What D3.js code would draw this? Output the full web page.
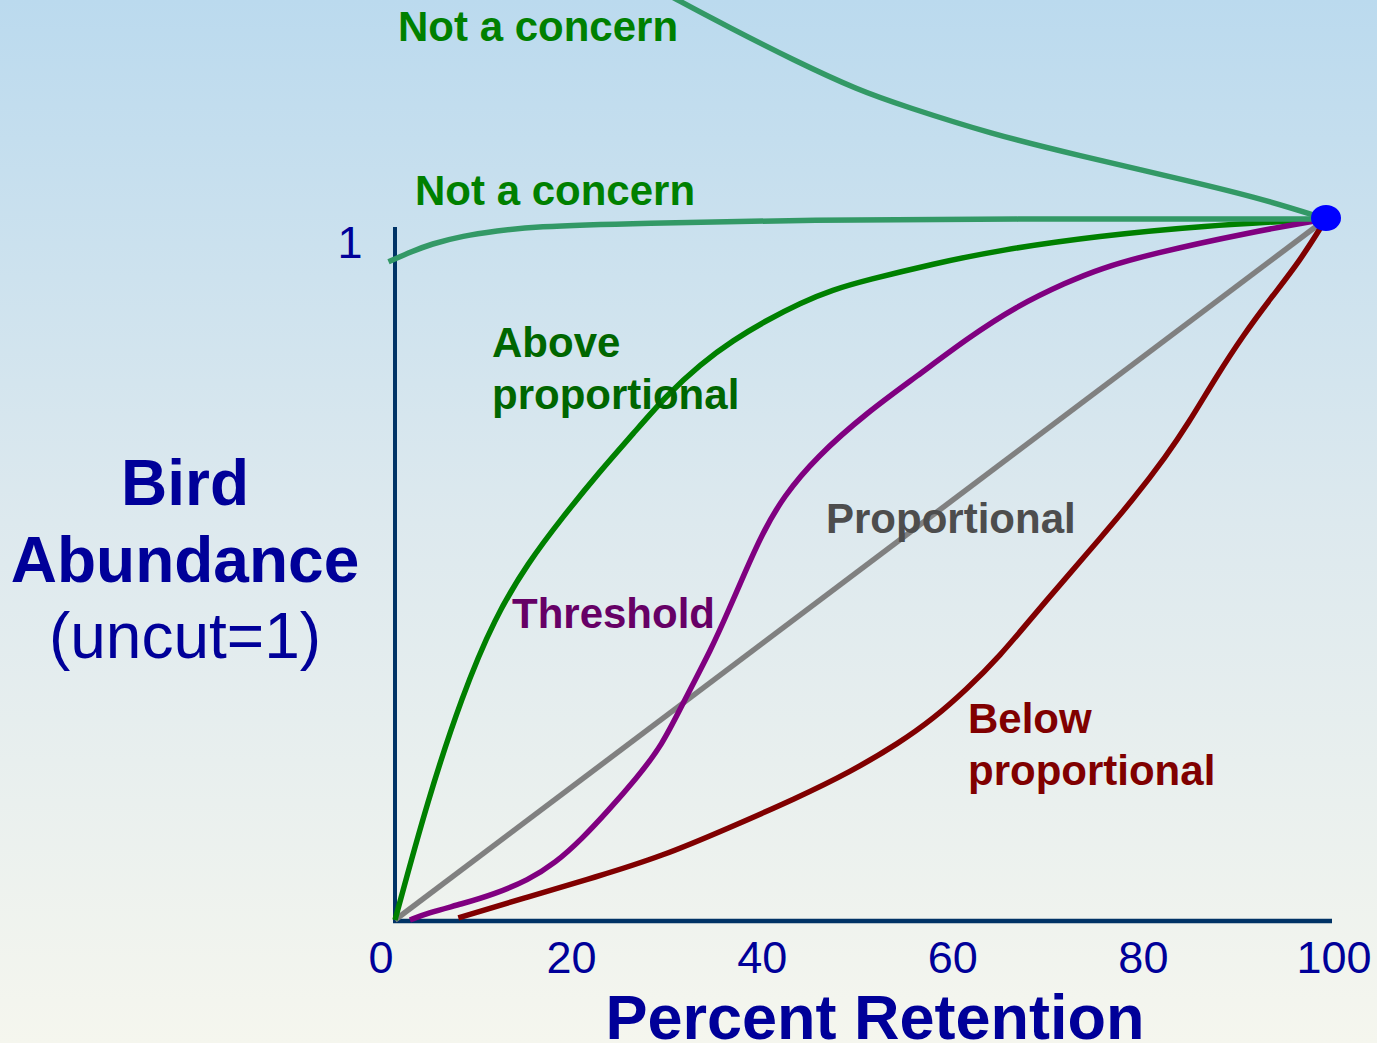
<!DOCTYPE html>
<html>
<head>
<meta charset="utf-8">
<script src="https://cdn.jsdelivr.net/npm/d3@7"></script>
<style>
  body { margin: 0; overflow: hidden; }
  text { font-family: "Liberation Sans", Arial, sans-serif; }
</style>
</head>
<body>
<div id="chart"></div>
<script>
// percent retention (x) vs bird abundance relative to uncut (y)
const aboveX = [0, 3.5, 7.2, 10.7, 14.3, 17.9, 22, 25.6, 29.2, 32.8, 36.3, 40, 43.5, 47, 50.7, 57.8, 65, 75.7, 86.5, 100];
const aboveY = [0, 0.171, 0.32, 0.431, 0.51, 0.573, 0.64, 0.694, 0.749, 0.793, 0.827, 0.856, 0.88, 0.899, 0.913, 0.936, 0.956, 0.976, 0.99, 1];

const threshX = [1.6, 3.5, 7.2, 10.7, 14.3, 17.2, 20.1, 22.9, 25.8, 28.7, 31.1, 34, 35.8, 37.6, 39.4, 41.7, 45.3, 50.7, 56.1, 61.4, 66.8, 72.2, 75.7, 81.1, 91.8, 100];
const threshY = [0, 0.01, 0.023, 0.037, 0.057, 0.081, 0.116, 0.156, 0.2, 0.249, 0.314, 0.387, 0.441, 0.496, 0.55, 0.604, 0.661, 0.724, 0.776, 0.829, 0.876, 0.91, 0.929, 0.95, 0.981, 1];

const propX = [0, 100];
const propY = [0, 1];

const belowX = [6.8, 14.3, 21.5, 28.7, 35.8, 43, 48.9, 54.2, 57.8, 61.4, 65, 68.5, 72.2, 75.7, 79.3, 82.9, 85.1, 88.3, 91.1, 94, 97.2, 100];
const belowY = [0.003, 0.033, 0.061, 0.091, 0.131, 0.173, 0.211, 0.253, 0.287, 0.329, 0.377, 0.433, 0.49, 0.544, 0.6, 0.663, 0.706, 0.777, 0.834, 0.886, 0.94, 1];

const concernHighX = [28, 30.1, 35.8, 42.9, 49.9, 54.7, 64.1, 73.6, 83.1, 92.6, 100];
const concernHighY = [1.33, 1.314, 1.274, 1.226, 1.183, 1.161, 1.121, 1.09, 1.061, 1.031, 1];

const concernFlatX = [-0.7, 1.9, 3.8, 7.3, 11, 14.5, 26.3, 45.2, 64.1, 100];
const concernFlatY = [0.939, 0.954, 0.964, 0.976, 0.983, 0.989, 0.994, 0.999, 1, 1];

const xTicks = [0, 20, 40, 60, 80, 100];
const yTicks = [1];

const W = 1377, H = 1043;

const svg = d3.select("#chart").append("svg")
  .attr("width", W)
  .attr("height", H);

// background gradient
const grad = svg.append("defs").append("linearGradient")
  .attr("id", "bg")
  .attr("x1", 0).attr("y1", 0).attr("x2", 0).attr("y2", 1);
grad.append("stop").attr("offset", "0%").attr("stop-color", "#bbdaee");
grad.append("stop").attr("offset", "50%").attr("stop-color", "#dde9ee");
grad.append("stop").attr("offset", "100%").attr("stop-color", "#f5f6ee");

svg.append("rect")
  .attr("width", W)
  .attr("height", H)
  .attr("fill", "url(#bg)");

const x = d3.scaleLinear().domain([0, 100]).range([395, 1326]);
const y = d3.scaleLinear().domain([0, 1]).range([920, 219]);
// tick labels sit on a slightly wider spacing than the axis itself
const xLab = d3.scaleLinear().domain([0, 100]).range([381, 1334]);

const line = d3.line()
  .x(d => x(d[0]))
  .y(d => y(d[1]))
  .curve(d3.curveBasis);

const series = [
  { xs: concernHighX, ys: concernHighY, color: "#339966" },
  { xs: propX, ys: propY, color: "#808080" },
  { xs: belowX, ys: belowY, color: "#800000" },
  { xs: aboveX, ys: aboveY, color: "#008000" },
  { xs: threshX, ys: threshY, color: "#800080" },
  { xs: concernFlatX, ys: concernFlatY, color: "#339966" }
];

// axes
svg.append("line")
  .attr("x1", x(0)).attr("x2", x(0))
  .attr("y1", y(0) + 2).attr("y2", y(1) + 8)
  .attr("stroke", "#003366").attr("stroke-width", 4);

svg.append("line")
  .attr("x1", x(0) - 2).attr("x2", x(100) + 6)
  .attr("y1", y(0) + 1).attr("y2", y(0) + 1)
  .attr("stroke", "#003366").attr("stroke-width", 4.5);

svg.selectAll("path.curve")
  .data(series)
  .enter()
  .append("path")
  .attr("class", "curve")
  .attr("d", s => line(s.xs.map((v, i) => [v, s.ys[i]])))
  .attr("fill", "none")
  .attr("stroke", s => s.color)
  .attr("stroke-width", 5.5)
  .attr("stroke-linecap", "butt");

// end point
svg.append("ellipse")
  .attr("cx", x(100))
  .attr("cy", y(1) - 1)
  .attr("rx", 15)
  .attr("ry", 13)
  .attr("fill", "#0000ff");

// tick labels
svg.selectAll("text.xtick")
  .data(xTicks)
  .enter()
  .append("text")
  .attr("class", "xtick")
  .attr("x", d => xLab(d))
  .attr("y", 973)
  .attr("text-anchor", "middle")
  .attr("font-size", 45)
  .attr("fill", "#000099")
  .text(d => d);

svg.selectAll("text.ytick")
  .data(yTicks)
  .enter()
  .append("text")
  .attr("class", "ytick")
  .attr("x", 350)
  .attr("y", d => y(d) + 39)
  .attr("text-anchor", "middle")
  .attr("font-size", 45)
  .attr("fill", "#000099")
  .text(d => d);

// axis titles
svg.append("text")
  .attr("x", 875)
  .attr("y", 1039)
  .attr("text-anchor", "middle")
  .attr("font-size", 63)
  .attr("font-weight", "bold")
  .attr("fill", "#000099")
  .text("Percent Retention");

const ytitle = svg.append("text")
  .attr("text-anchor", "middle")
  .attr("fill", "#000099")
  .attr("font-size", 64);
ytitle.append("tspan").attr("x", 185).attr("y", 505).attr("font-weight", "bold").text("Bird");
ytitle.append("tspan").attr("x", 185).attr("y", 582).attr("font-weight", "bold").text("Abundance");
ytitle.append("tspan").attr("x", 185).attr("y", 658).text("(uncut=1)");

// curve labels
const notes = [
  { lines: ["Not a concern"], px: 398, py: 41, color: "#008000" },
  { lines: ["Not a concern"], px: 415, py: 205, color: "#008000" },
  { lines: ["Above", "proportional"], px: 492, py: 357, color: "#006600" },
  { lines: ["Threshold"], px: 512, py: 628, color: "#660066" },
  { lines: ["Proportional"], px: 826, py: 533, color: "#4d4d4d" },
  { lines: ["Below", "proportional"], px: 968, py: 733, color: "#800000" }
];

notes.forEach(n => {
  const t = svg.append("text")
    .attr("font-size", 42)
    .attr("font-weight", "bold")
    .attr("fill", n.color);
  n.lines.forEach((s, i) => {
    t.append("tspan")
      .attr("x", n.px)
      .attr("y", n.py + i * 52)
      .text(s);
  });
});
</script>
</body>
</html>
